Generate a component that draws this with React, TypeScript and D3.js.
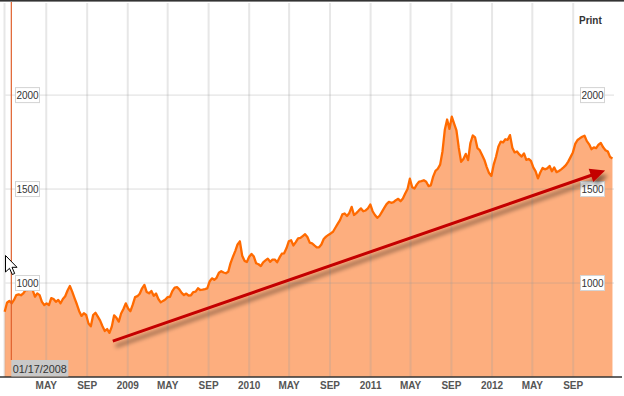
import React from "react";
import * as d3 from "d3";

// ---- data (weekly closes) ----
const weeks2007 = ["12-28"];
const close2007 = [847];

const weeks2008 = ["01-04","01-11","01-18","01-25","02-01","02-08","02-15","02-22","02-29","03-07","03-14","03-21","03-28","04-04","04-11","04-18","04-25","05-02","05-09","05-16","05-23","05-30","06-06","06-13","06-20","06-27","07-04","07-11","07-18","07-25","08-01","08-08","08-15","08-22","08-29","09-05","09-12","09-19","09-26","10-03","10-10","10-17","10-24","10-31","11-07","11-14","11-21","11-28","12-05","12-12","12-19","12-26"];
const close2008 = [895,905,892,910,936,940,935,945,963,963,989,963,927,945,936,900,883,892,883,920,915,900,910,892,915,930,960,984,954,920,887,850,825,839,830,785,770,830,842,821,800,770,745,755,735,768,828,815,795,838,862,892];

const weeks2009 = ["01-02","01-09","01-16","01-23","01-30","02-06","02-13","02-20","02-27","03-06","03-13","03-20","03-27","04-03","04-10","04-17","04-24","05-01","05-08","05-15","05-22","05-29","06-05","06-12","06-19","06-26","07-03","07-10","07-17","07-24","07-31","08-07","08-14","08-21","08-28","09-04","09-11","09-18","09-25","10-02","10-09","10-16","10-23","10-30","11-06","11-13","11-20","11-27","12-04","12-11","12-18","12-25"];
const close2009 = [865,850,885,925,930,943,972,990,952,945,958,932,944,915,897,905,912,925,927,957,976,978,966,948,936,944,933,935,952,954,972,963,965,968,972,1008,1025,1017,1028,1055,1063,1056,1052,1060,1106,1139,1170,1205,1222,1145,1118,1112];

const weeks2010 = ["01-01","01-08","01-15","01-22","01-29","02-05","02-12","02-19","02-26","03-05","03-12","03-19","03-26","04-02","04-09","04-16","04-23","04-30","05-07","05-14","05-21","05-28","06-04","06-11","06-18","06-25","07-02","07-09","07-16","07-23","07-30","08-06","08-13","08-20","08-27","09-03","09-10","09-17","09-24","10-01","10-08","10-15","10-22","10-29","11-05","11-12","11-19","11-26","12-03","12-10","12-17","12-24","12-31"];
const close2010 = [1140,1155,1141,1105,1100,1090,1110,1120,1130,1113,1124,1125,1110,1135,1156,1158,1185,1222,1228,1200,1218,1238,1240,1250,1260,1245,1215,1211,1200,1190,1190,1205,1234,1247,1256,1264,1273,1294,1315,1335,1365,1370,1357,1373,1405,1362,1372,1385,1397,1382,1386,1397,1418];

const weeks2011 = ["01-07","01-14","01-21","01-28","02-04","02-11","02-18","02-25","03-04","03-11","03-18","03-25","04-01","04-08","04-15","04-22","04-29","05-06","05-13","05-20","05-27","06-03","06-10","06-17","06-24","07-01","07-08","07-15","07-22","07-29","08-05","08-12","08-19","08-26","09-02","09-09","09-16","09-23","09-30","10-07","10-14","10-21","10-28","11-04","11-11","11-18","11-25","12-02","12-09","12-16","12-23","12-30"];
const close2011 = [1382,1362,1347,1358,1379,1400,1420,1432,1427,1430,1441,1448,1435,1450,1476,1500,1555,1510,1503,1525,1540,1542,1547,1539,1516,1520,1566,1597,1608,1630,1700,1815,1870,1820,1885,1848,1812,1720,1645,1660,1687,1654,1745,1785,1775,1718,1707,1681,1655,1617,1585,1570];

const weeks2012 = ["01-06","01-13","01-20","01-27","02-03","02-10","02-17","02-24","03-02","03-09","03-16","03-23","03-30","04-06","04-13","04-20","04-27","05-04","05-11","05-18","05-25","06-01","06-08","06-15","06-22","06-29","07-06","07-13","07-20","07-27","08-03","08-10","08-17","08-24","08-31","09-07","09-14","09-21","09-28","10-05","10-12","10-19","10-26","11-02","11-09","11-16","11-23","11-30","12-07","12-14","12-21","12-28"];
const close2012 = [1630,1672,1725,1752,1748,1765,1762,1787,1720,1695,1700,1684,1673,1690,1655,1660,1650,1615,1594,1557,1588,1612,1605,1610,1623,1595,1615,1590,1596,1605,1615,1627,1646,1670,1695,1740,1761,1770,1778,1784,1755,1738,1712,1722,1718,1736,1745,1722,1707,1700,1670,1663];

const xTickDates = ["2008-05-01","2008-09-01","2009-01-01","2009-05-01","2009-09-01","2010-01-01","2010-05-01","2010-09-01","2011-01-01","2011-05-01","2011-09-01","2012-01-01","2012-05-01","2012-09-01"];
const xTickLabels = ["MAY","SEP","2009","MAY","SEP","2010","MAY","SEP","2011","MAY","SEP","2012","MAY","SEP"];
const yTicks = [1000, 1500, 2000];

const crosshairDate = "2008-01-17";
const crosshairLabel = "01/17/2008";
const trendArrow: [string, number][] = [["2008-11-17", 691], ["2012-12-06", 1599]];

type Pt = { date: Date; value: number };

export default function App() {
  const parse = d3.timeParse("%Y-%m-%d");
  const blocks: [number, string[], number[]][] = [
    [2007, weeks2007, close2007],
    [2008, weeks2008, close2008],
    [2009, weeks2009, close2009],
    [2010, weeks2010, close2010],
    [2011, weeks2011, close2011],
    [2012, weeks2012, close2012],
  ];
  const data: Pt[] = blocks.flatMap(([yr, ws, vs]) =>
    ws.map((w, i) => ({ date: parse(`${yr}-${w}`) as Date, value: vs[i] }))
  );

  const x = d3.scaleTime().domain([new Date(2008, 0, 1), new Date(2013, 0, 1)]).range([6, 613.8]);
  const y = d3.scaleLinear().domain([500, 2490]).range([377, 3]);
  const bottom = y(500);

  const area = d3.area<Pt>().x(d => x(d.date)).y0(bottom).y1(d => y(d.value));
  const line = d3.line<Pt>().x(d => x(d.date)).y(d => y(d.value));

  const plotLeft = 4.5;
  const plotRight = 614;
  const font = "'Liberation Sans', Arial, sans-serif";

  const chX = x(parse(crosshairDate) as Date);

  const a0x = x(parse(trendArrow[0][0]) as Date), a0y = y(trendArrow[0][1]);
  const a1x = x(parse(trendArrow[1][0]) as Date), a1y = y(trendArrow[1][1]);
  const dx = a1x - a0x, dy = a1y - a0y;
  const len = Math.hypot(dx, dy);
  const ux = dx / len, uy = dy / len;
  const headLen = 15, headHalf = 7;
  const bx = a1x - ux * headLen, by = a1y - uy * headLen;
  const head = `M${a1x},${a1y} L${bx - uy * headHalf},${by + ux * headHalf} L${bx + uy * headHalf},${by - ux * headHalf} Z`;

  return (
    <svg width={624} height={396} style={{ position: "absolute", left: 0, top: 0, display: "block", background: "#fff" }}>
      <defs>
        <filter id="shadow" x="-10%" y="-60%" width="125%" height="220%">
          <feDropShadow dx="3" dy="5" stdDeviation="2" floodColor="#000" floodOpacity="0.45" />
        </filter>
      </defs>
      <rect x={0} y={0} width={624} height={396} fill="#fff" />
      {/* area */}
      <path d={area(data) || ""} fill="#fdae7e" />
      {/* vertical grid */}
      <line x1={plotLeft} x2={plotLeft} y1={3} y2={bottom} stroke="rgba(160,160,160,0.25)" strokeWidth={2} />
      {xTickDates.map((d, i) => {
        const xx = x(parse(d) as Date);
        return <line key={"vg" + i} x1={xx} x2={xx} y1={3} y2={bottom} stroke="rgba(160,160,160,0.25)" strokeWidth={2} />;
      })}
      {/* horizontal grid */}
      {yTicks.map(t => (
        <line key={"hg" + t} x1={plotLeft + 1} x2={plotRight} y1={y(t)} y2={y(t)} stroke="rgba(150,150,150,0.32)" strokeWidth={1} />
      ))}
      {/* line */}
      <path d={line(data) || ""} fill="none" stroke="#ff6a00" strokeWidth={2.3} strokeLinejoin="round" />
      {/* top border */}
      <rect x={0} y={0} width={624} height={1.6} fill="#333" />
      {/* bottom axis */}
      <line x1={0} x2={622} y1={bottom} y2={bottom} stroke="#333" strokeWidth={1.5} />
      {xTickDates.map((d, i) => (
        <text key={"xl" + i} x={x(parse(d) as Date)} y={388.5} textAnchor="middle" fontFamily={font} fontSize={10} fontWeight="bold" fill="#555">
          {xTickLabels[i]}
        </text>
      ))}
      {/* y labels */}
      {yTicks.map(t => (
        <g key={"yl" + t}>
          <rect x={15.5} y={y(t) - 7.5} width={24} height={15} fill="#fff" stroke="#d4d4d4" strokeWidth={1} />
          <text x={27.5} y={y(t) + 3.5} textAnchor="middle" fontFamily={font} fontSize={10} fill="#333">{t}</text>
          <rect x={580.5} y={y(t) - 7.5} width={24} height={15} fill="#fff" stroke="#d4d4d4" strokeWidth={1} />
          <text x={592.5} y={y(t) + 3.5} textAnchor="middle" fontFamily={font} fontSize={10} fill="#333">{t}</text>
        </g>
      ))}
      {/* Print */}
      <text x={579} y={24} fontFamily={font} fontSize={10} fontWeight="bold" fill="#333">Print</text>
      {/* crosshair */}
      <line x1={chX} x2={chX} y1={2} y2={360} stroke="#e0602c" strokeWidth={1.2} />
      <rect x={chX} y={360} width={57} height={16.5} fill="#c9c9c9" />
      <text x={chX + 28.5} y={372.5} textAnchor="middle" fontFamily={font} fontSize={10.8} fill="#333">{crosshairLabel}</text>
      {/* trend arrow */}
      <g filter="url(#shadow)">
        <line x1={a0x} y1={a0y} x2={bx + ux * 2} y2={by + uy * 2} stroke="#c40000" strokeWidth={3} />
        <path d={head} fill="#c40000" />
      </g>
      {/* mouse cursor */}
      <path d="M0,0 L0,16.5 L4,12.8 L6.8,19 L9.2,18 L6.5,11.8 L11.5,11.8 Z" transform="translate(5.5,255.5)" fill="#fff" stroke="#000" strokeWidth={1} strokeLinejoin="miter" />
    </svg>
  );
}
